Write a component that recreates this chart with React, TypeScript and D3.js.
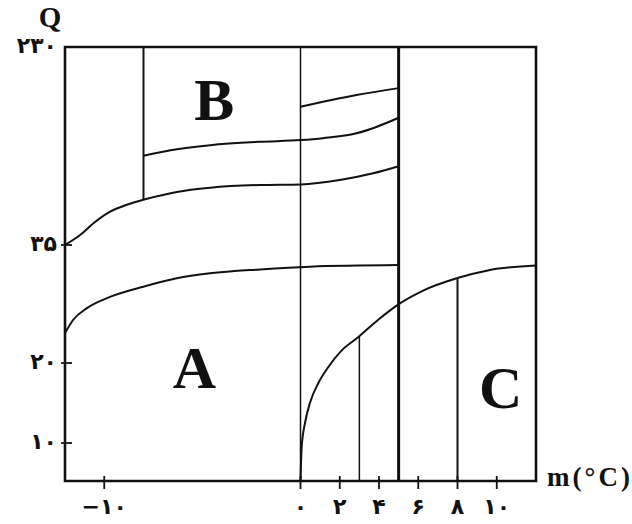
import * as d3 from 'd3'

// axis ticks
const xTicks = [-10, 0, 2, 4, 6, 8, 10]
const xTickLabels = ['−۱۰', '۰', '۲', '۴', '۶', '۸', '۱۰']
const yTicks = [10, 20, 35, 230]
const yTickLabels = ['۱۰', '۲۰', '۳۵', '۲۳۰']

// boundary curves [m, Q]
const curveA = [[-12, 23.8], [-11.58, 25.5], [-10.9, 26.95], [-9.71, 28.4], [-8.01, 29.7], [-6.31, 30.77], [-4.61, 31.4], [-2.06, 31.9], [0.48, 32.25], [5, 32.45]]
const curveLow = [[-12, 35], [-11.23, 44.8], [-10.55, 56.4], [-9.7, 67.8], [-8.85, 74.6], [-7.92, 80], [-6.3, 87.3], [-4.6, 91.4], [-2.07, 94.1], [0, 94.7], [2, 99], [3.7, 105.6], [5, 112.6]]
const curveMid = [[-8, 122.9], [-6.3, 129.2], [-4.6, 133.3], [-2.1, 136.6], [0, 138.3], [1.15, 140.2], [2.85, 145], [3.9, 151.5], [5, 160.3]]
const curveTop = [[0, 171.2], [1.15, 176.1], [2.85, 182.7], [5, 189.5]]
const curveC = [[0, 5], [0.06, 9.5], [0.23, 12.5], [0.48, 15], [0.91, 17.5], [1.42, 19.5], [2.1, 21.6], [2.95, 23.3], [3.96, 25.5], [4.9, 27.3], [6.25, 29.2], [8, 30.8], [9.6, 31.8], [12, 32.4]]

// vertical dividers
const dividerX = [-8, 0, 3, 5, 8]
const dividerBottom = [80, 5, 5, 5, 5]
const dividerTop = [230, 230, 23.4, 230, 30.8]

const regionNames = ['A', 'B', 'C']
const regionX = [-5.4, -4.4, 10.2]
const regionQ = [16.9, 158, 14.4]

const W = 632
const H = 524

export default function App() {
  const x = d3.scaleLinear().domain([-12, 12]).range([65, 536])
  const y = d3.scaleLinear().domain([5, 10, 20, 35, 230]).range([481, 443, 363, 245, 47])

  const line = d3
    .line<number[]>()
    .x((d) => x(d[0]))
    .y((d) => y(d[1]))
    .curve(d3.curveMonotoneX)

  const curves = [curveA, curveLow, curveMid, curveTop, curveC]
  const dividerWidth = [2, 1.5, 1.5, 3, 2]

  const x0 = x(-12)
  const x1 = x(12)
  const yb = y(5)
  const yt = y(230)

  const digitFont = {
    fontFamily: 'DejaVu Sans',
    fontWeight: 'bold' as const,
    fontSize: 22,
    fill: '#111',
  }

  return (
    <svg width={W} height={H} style={{ position: 'absolute', left: 0, top: 0, background: '#fff' }}>
      <rect width={W} height={H} fill="#fff" />

      {dividerX.map((d, i) => (
        <line
          key={'dv' + i}
          x1={x(d)}
          x2={x(d)}
          y1={y(dividerBottom[i])}
          y2={y(dividerTop[i])}
          stroke="#111"
          strokeWidth={dividerWidth[i]}
        />
      ))}

      {curves.map((c, i) => (
        <path key={'c' + i} d={line(c) || ''} fill="none" stroke="#111" strokeWidth={2} />
      ))}

      {/* frame */}
      <path
        d={`M${x0},${yt}H${x1}V${yb}H${x0}Z`}
        fill="none"
        stroke="#111"
        strokeWidth={2.6}
      />

      {/* x ticks */}
      {xTicks.map((t, i) => (
        <g key={'xt' + i}>
          <line x1={x(t)} x2={x(t)} y1={yb - 5} y2={yb + 8} stroke="#111" strokeWidth={1.8} />
          <text x={x(t)} y={yb + 33} textAnchor="middle" {...digitFont}>
            {xTickLabels[i]}
          </text>
        </g>
      ))}

      {/* y ticks */}
      {yTicks.map((t, i) => (
        <g key={'yt' + i}>
          {t !== 230 && (
            <line x1={x0 - 4} x2={x0 + 7} y1={y(t)} y2={y(t)} stroke="#111" strokeWidth={1.8} />
          )}
          <text x={x0 - 8} y={y(t)} dy="0.27em" textAnchor="end" {...digitFont}>
            {yTickLabels[i]}
          </text>
        </g>
      ))}

      {/* axis titles */}
      <text x={50} y={27} textAnchor="middle" fontFamily="Liberation Serif" fontWeight="bold" fontSize={29} fill="#111">
        Q
      </text>
      <text
        x={547}
        y={486}
        fontFamily="Liberation Serif"
        fontWeight="bold"
        fontSize={27}
        fill="#111"
        textLength={83}
        lengthAdjust="spacing"
      >
        m(°C)
      </text>

      {regionNames.map((r, i) => (
        <text
          key={r}
          x={x(regionX[i])}
          y={y(regionQ[i])}
          textAnchor="middle"
          fontFamily="Liberation Serif"
          fontWeight="bold"
          fontSize={60}
          fill="#111"
        >
          {r}
        </text>
      ))}
    </svg>
  )
}
